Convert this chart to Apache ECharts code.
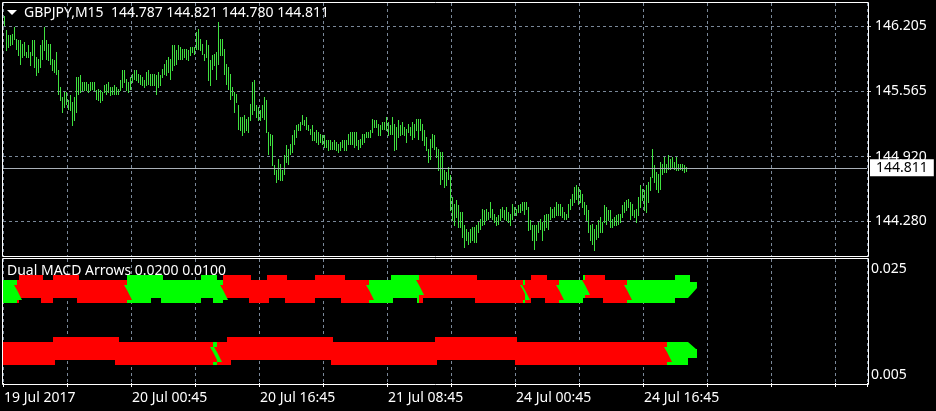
<!DOCTYPE html>
<html><head><meta charset="utf-8">
<script src="https://cdn.jsdelivr.net/npm/echarts@6/dist/echarts.min.js"></script>
<style>html,body{margin:0;padding:0;background:#000;}#c{width:936px;height:411px;}</style>
</head><body><div id="c"></div>
<script>
// ---------------- data ----------------
const symbolName = 'GBPJPY,M15';
const lastOHLC = [144.787, 144.821, 144.780, 144.811];
const barHigh = [
146.306,146.168,146.119,146.119,146.135,146.201,146.086,146.069,146.069,146.036,
146.053,145.954,146.020,145.954,146.069,146.069,145.904,145.888,146.020,146.069,
146.201,146.069,146.036,146.036,145.888,145.872,145.954,145.773,145.609,145.510,
145.559,145.559,145.477,145.526,145.460,145.510,145.707,145.707,145.724,145.658,
145.658,145.658,145.642,145.658,145.658,145.658,145.576,145.592,145.576,145.559,
145.625,145.642,145.658,145.609,145.609,145.625,145.609,145.592,145.674,145.773,
145.773,145.691,145.658,145.707,145.740,145.773,145.773,145.740,145.724,145.707,
145.674,145.757,145.773,145.740,145.740,145.740,145.724,145.757,145.724,145.790,
145.839,145.872,145.904,145.888,146.020,146.020,145.970,
146.020,146.003,145.987,145.987,145.987,145.970,146.003,146.003,146.003,146.151,
146.185,146.086,146.036,145.937,146.069,146.020,145.872,145.921,145.937,145.954,
146.250,146.086,146.086,145.987,145.839,145.806,145.740,145.609,145.559,145.543,
145.428,145.312,145.312,145.329,145.296,145.312,145.444,145.658,145.674,145.428,
145.411,145.378,145.428,145.510,145.477,145.164,145.148,145.131,144.835,144.786,
144.901,144.852,144.786,144.934,145.033,145.000,145.049,145.131,145.181,145.230,
145.247,145.263,145.329,145.279,145.312,145.230,145.197,145.230,145.164,145.181,
145.164,145.148,145.131,145.131,145.082,145.082,145.082,145.065,145.082,145.065,
145.049,145.065,145.082,145.082,145.082,145.148,145.164,145.164,145.164,
145.164,145.082,145.099,145.148,145.148,145.164,145.164,145.181,145.296,145.279,
145.279,145.247,145.230,145.263,145.263,145.312,145.263,145.230,145.312,145.247,
145.213,145.279,145.230,145.263,145.213,145.197,145.247,145.213,145.263,145.247,
145.296,145.296,145.296,145.247,145.181,145.115,145.000,145.099,145.148,145.131,
145.016,145.000,144.967,144.967,144.786,144.769,144.819,144.737,144.522,144.457,
144.490,144.440,144.374,144.374,144.243,144.210,144.177,144.210,144.226,144.226,
144.243,144.276,144.309,144.408,144.391,144.408,144.374,144.473,144.408,144.358,
144.325,144.342,144.408,144.424,144.391,144.424,144.374,144.358,144.457,144.424,
144.408,144.440,144.457,144.473,144.473,144.473,144.424,
144.292,144.243,144.243,144.243,144.276,144.309,144.276,144.342,144.358,144.358,
144.424,144.408,144.424,144.473,144.457,144.457,144.424,144.374,144.358,144.457,
144.506,144.556,144.621,144.638,144.621,144.588,144.556,144.473,144.440,144.391,
144.243,144.259,144.210,144.243,144.292,144.325,144.276,144.440,144.424,144.391,
144.391,144.309,144.325,144.342,144.358,144.358,144.440,144.473,144.490,144.506,
144.473,144.457,144.391,144.408,144.522,144.638,144.605,144.588,144.638,144.671,
144.720,145.000,144.835,144.769,144.753,144.868,144.852,144.918,144.852,144.934,
144.901,144.918,144.868,144.918,144.852,144.852,144.852,144.835,144.821
];
const barLow = [
146.217,145.970,146.003,146.020,146.036,146.086,145.987,145.921,145.839,145.904,
145.921,145.904,145.904,145.822,145.921,145.806,145.724,145.757,145.806,145.888,
145.970,145.888,145.872,145.839,145.773,145.757,145.740,145.543,145.477,145.361,
145.411,145.444,145.395,145.378,145.230,145.279,145.361,145.543,145.559,145.576,
145.576,145.576,145.559,145.576,145.592,145.576,145.494,145.477,145.460,145.477,
145.559,145.543,145.559,145.526,145.543,145.543,145.543,145.543,145.576,145.609,
145.658,145.576,145.559,145.592,145.658,145.691,145.674,145.658,145.642,145.625,
145.609,145.625,145.642,145.625,145.625,145.625,145.543,145.609,145.625,145.707,
145.740,145.724,145.757,145.691,145.773,145.822,145.839,
145.888,145.888,145.888,145.904,145.888,145.872,145.921,145.954,145.937,145.987,
145.987,145.970,145.937,145.872,145.904,145.674,145.625,145.790,145.822,145.691,
145.839,145.921,145.921,145.740,145.642,145.592,145.494,145.526,145.361,145.460,
145.197,145.181,145.131,145.164,145.181,145.164,145.279,145.345,145.378,145.312,
145.279,145.279,145.312,145.296,145.164,144.951,145.033,144.835,144.753,144.671,
144.704,144.687,144.687,144.753,144.868,144.852,144.951,144.967,145.049,145.115,
145.181,145.181,145.247,145.230,145.197,145.181,145.148,145.082,145.082,145.065,
145.049,145.065,145.049,145.016,145.016,144.983,145.000,145.000,145.000,144.983,
144.967,144.983,145.016,144.983,144.983,145.049,145.049,145.049,145.016,
145.033,145.000,145.016,145.049,145.065,145.115,145.115,145.115,145.164,145.213,
145.213,145.131,145.131,145.197,145.197,145.181,145.131,145.148,145.148,144.983,
145.000,145.115,145.131,145.148,145.131,145.065,145.164,145.131,145.099,145.115,
145.181,145.099,145.181,145.082,145.033,144.983,144.868,144.901,145.016,145.000,
144.918,144.786,144.654,144.704,144.621,144.638,144.704,144.391,144.292,144.243,
144.325,144.226,144.226,144.127,144.029,144.095,144.062,144.078,144.095,144.078,
144.078,144.177,144.210,144.243,144.259,144.292,144.309,144.325,144.309,144.276,
144.243,144.259,144.292,144.325,144.309,144.292,144.276,144.243,144.309,144.342,
144.342,144.374,144.374,144.391,144.358,144.408,144.193,
144.210,144.095,144.013,144.095,144.177,144.210,144.095,144.193,144.226,144.210,
144.309,144.325,144.325,144.342,144.342,144.342,144.325,144.309,144.309,144.325,
144.408,144.440,144.473,144.506,144.457,144.473,144.424,144.358,144.292,144.177,
144.095,144.062,143.996,144.111,144.127,144.177,144.177,144.276,144.259,144.292,
144.226,144.226,144.243,144.243,144.259,144.276,144.325,144.374,144.391,144.424,
144.309,144.342,144.325,144.276,144.342,144.424,144.490,144.391,144.374,144.473,
144.588,144.720,144.671,144.605,144.572,144.605,144.753,144.769,144.769,144.802,
144.802,144.819,144.802,144.786,144.786,144.802,144.786,144.769,144.780
];
const slotCount = 432;
const timeLabels = ['19 Jul 2017', '20 Jul 00:45', '20 Jul 16:45', '21 Jul 08:45', '24 Jul 00:45', '24 Jul 16:45'];
const priceTicks = [146.205, 145.565, 144.920, 144.280];
const indicatorName = 'Dual MACD Arrows';
const indicatorValues = [0.0200, 0.0100];
const indicatorTicks = [0.025, 0.005];
// per-bar arrow states, run-length coded (U = upper glyph, L = lower glyph, B = both; G = green, R = red)
const topRowLevel = 'L8 U11 B1 L5 U12 B1 L24 B12 U5 B1 L19 U6 B2 L3 U13 B1 L8 B1 U8 B1 L14 U13 B2 L23 B1 U12 B3 U26 B1 L27 U7 B1 L18 U10 B1 L35 U6';
const topRowColor = 'G7 R55 G48 R73 G25 R52 G1 R17 G13 R21 G30';
const bottomRowLevel = 'L25 B1 U30 B2 L54 B2 U50 B1 L51 B1 U39 B1 L85';
const bottomRowColor = 'R105 G2 R225 G10';

// ---------------- helpers ----------------
function decodeRuns(s) {
  const out = [];
  s.trim().split(/\s+/).forEach(tok => {
    const c = tok[0], n = parseInt(tok.slice(1), 10);
    for (let k = 0; k < n; k++) out.push(c);
  });
  return out;
}
const FONT = 'Noto Sans';
const BAR_COLOR = '#3fe03f';
const GRID_COLOR = '#7a8899';
const ARROW_COLORS = { G: '#00ff00', R: '#ff0000' };
const LEVEL_OFFSETS = { U: [-15, 8], L: [-10, 13], B: [-15, 13] };
const nBars = barHigh.length;
const categories = Array.from({ length: slotCount }, (_, i) => String(i));
const priceData = barHigh.map((h, i) => [i, h, barLow[i]]);

const rows = [
  { value: indicatorValues[0], levels: decodeRuns(topRowLevel), colors: decodeRuns(topRowColor),
    head: [[1,-15],[4,-15],[4,-8],[11,-8],[11,-2],[2,8],[1,8]] },
  { value: indicatorValues[1], levels: decodeRuns(bottomRowLevel), colors: decodeRuns(bottomRowColor),
    head: [[1,-10],[2,-10],[10,-3],[11,-3],[11,6],[2,6],[2,13],[1,13]] }
];

function rowSeries(row) {
  return {
    type: 'custom', xAxisIndex: 1, yAxisIndex: 1, silent: true, animation: false,
    data: row.levels.map((_, i) => [i, row.value]),
    encode: { x: 0, y: 1 },
    renderItem: function (params, api) {
      const i = api.value(0);
      const c = api.coord([i, api.value(1)]);
      const cx = Math.round(c[0]), cy = Math.round(c[1]);
      const off = LEVEL_OFFSETS[row.levels[i]];
      const fill = ARROW_COLORS[row.colors[i]];
      const children = [{ type: 'rect', shape: { x: cx - 1, y: cy + off[0], width: 2, height: off[1] - off[0] }, style: { fill } }];
      if (i > 0 && row.colors[i] !== row.colors[i - 1]) {
        const prev = ARROW_COLORS[row.colors[i - 1]];
        const x0 = cx - 1, T = cy + LEVEL_OFFSETS[row.levels[i - 1]][0] + 5;
        children.push({ type: 'polygon', z2: 10, shape: { points: [[x0, T + 5], [x0 + 5, T + 15], [x0, T + 15]] }, style: { fill: prev } });
        children.push({ type: 'polygon', z2: 10, shape: { points: [[x0 - 3, T], [x0, T], [x0, T + 5]] }, style: { fill } });
      }
      if (i === row.levels.length - 1) {
        children.push({ type: 'polygon', shape: { points: row.head.map(p => [cx + p[0], cy + p[1]]) }, style: { fill } });
      }
      return { type: 'group', children };
    }
  };
}

const chart = echarts.init(document.getElementById('c'), null, { renderer: 'canvas' });
const dashed = { color: GRID_COLOR, type: [3, 3], width: 1 };
chart.setOption({
  backgroundColor: '#000',
  animation: false,
  textStyle: { fontFamily: FONT },
  title: [
    { text: symbolName + '  ' + lastOHLC.map(v => v.toFixed(3)).join(' '), left: 24, top: 6, padding: 0,
      textStyle: { color: '#fff', fontFamily: FONT, fontSize: 14, fontWeight: 'normal' } },
    { text: indicatorName + ' ' + indicatorValues.map(v => v.toFixed(4)).join(' '), left: 7, top: 264, padding: 0, z: 20,
      textStyle: { color: '#fff', fontFamily: FONT, fontSize: 14, fontWeight: 'normal' } }
  ],
  grid: [
    { left: 3, top: 3, width: 864, height: 253 },
    { left: 3, top: 259, width: 864, height: 124 }
  ],
  xAxis: [
    { type: 'category', gridIndex: 0, data: categories, boundaryGap: true,
      axisLine: { show: false }, axisTick: { show: false }, axisLabel: { show: false },
      splitLine: { show: true, interval: 31, lineStyle: dashed } },
    { type: 'category', gridIndex: 1, data: categories, boundaryGap: true,
      axisLine: { show: false },
      axisTick: { show: true, interval: 31, length: 4, lineStyle: { color: '#ffffff' } },
      axisLabel: { show: true, interval: (idx) => idx % 64 === 0, align: 'left', margin: 8,
        color: '#fff', fontFamily: FONT, fontSize: 14,
        formatter: (v, idx) => timeLabels[idx / 64] || '' },
      splitLine: { show: true, interval: 31, lineStyle: dashed } }
  ],
  yAxis: [
    { type: 'value', gridIndex: 0, position: 'right', min: 143.93942, max: 146.43699, scale: true,
      axisLine: { show: false },
      axisTick: { show: true, length: 4, customValues: priceTicks, lineStyle: { color: '#c8c8c8' } },
      axisLabel: { show: true, customValues: priceTicks, margin: 8, color: '#fff', fontFamily: FONT, fontSize: 14,
        formatter: v => v.toFixed(3) },
      splitLine: { show: true, lineStyle: dashed } },
    { type: 'value', gridIndex: 1, position: 'right', min: 0.005, max: 0.025,
      axisLine: { show: false }, axisTick: { show: false }, splitLine: { show: false },
      axisLabel: { show: true, customValues: indicatorTicks, margin: 4, color: '#fff', fontFamily: FONT, fontSize: 14,
        formatter: v => v === indicatorTicks[0] ? '{t|' + v.toFixed(3) + '}' : '{b|' + v.toFixed(3) + '}',
        rich: { t: { padding: [20, 0, 0, 0], fontSize: 14, fontFamily: FONT, color: '#fff' },
                b: { padding: [0, 0, 16, 0], fontSize: 14, fontFamily: FONT, color: '#fff' } } } }
  ],
  series: [
    { type: 'custom', xAxisIndex: 0, yAxisIndex: 0, silent: true, animation: false,
      data: priceData, encode: { x: 0, y: [1, 2] },
      renderItem: function (params, api) {
        const i = api.value(0);
        const hi = api.coord([i, api.value(1)]);
        const lo = api.coord([i, api.value(2)]);
        const x = Math.round(hi[0]);
        const y0 = Math.round(hi[1]), y1 = Math.round(lo[1]);
        return { type: 'rect', shape: { x: x, y: y0, width: 1, height: Math.max(1, y1 - y0 + 1) }, style: { fill: BAR_COLOR } };
      },
      markLine: { silent: true, symbol: ['none', 'none'], animation: false, z: 10,
        data: [{ yAxis: lastOHLC[3] }],
        lineStyle: { color: '#a9b0b8', type: 'solid', width: 1 },
        label: { show: true, position: 'end', distance: 3, formatter: () => lastOHLC[3].toFixed(3),
          color: '#000', backgroundColor: '#fff', padding: [2, 6, 1, 6], fontFamily: FONT, fontSize: 14 } } },
    rowSeries(rows[0]),
    rowSeries(rows[1])
  ],
  graphic: [
    { type: 'rect', z: 100, silent: true, shape: { x: 2.5, y: 2.5, width: 866, height: 254 }, style: { fill: null, stroke: '#fff', lineWidth: 1 } },
    { type: 'rect', z: 100, silent: true, shape: { x: 2.5, y: 258.5, width: 866, height: 126 }, style: { fill: null, stroke: '#fff', lineWidth: 1 } },
    { type: 'polygon', z: 100, silent: true, shape: { points: [[7, 10], [17, 10], [12, 15]] }, style: { fill: '#fff' } }
  ]
});
</script>
</body></html>
